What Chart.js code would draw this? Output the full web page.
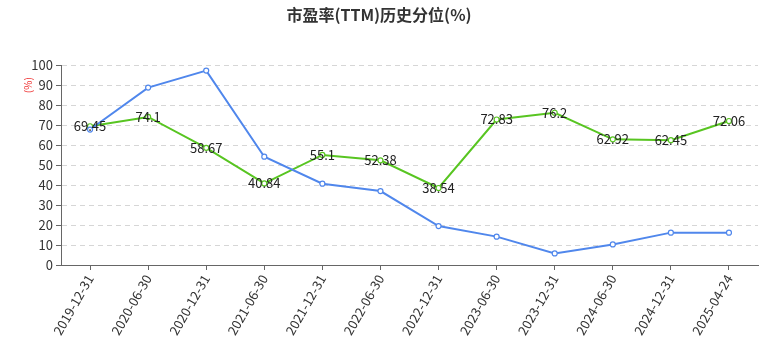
<!DOCTYPE html>
<html>
<head>
<meta charset="utf-8">
<script src="https://cdn.jsdelivr.net/npm/chart.js@4.4.1/dist/chart.umd.min.js"></script>
<style>
  html, body { margin: 0; padding: 0; background: #fff; }
  #wrap { width: 766px; height: 353px; }
</style>
</head>
<body>
<div id="wrap"><canvas id="graficoPE"></canvas></div>
<script>
const fechas = ["2019-12-31", "2020-06-30", "2020-12-31", "2021-06-30", "2021-12-31", "2022-06-30",
    "2022-12-31", "2023-06-30", "2023-12-31", "2024-06-30", "2024-12-31", "2025-04-24"];
const serieAzul = [67.8, 88.8, 97.3, 54.2, 40.7, 37.0, 19.5, 14.2, 5.8, 10.3, 16.2, 16.2];
const serieVerde = [69.45, 74.1, 58.67, 40.84, 55.1, 52.38, 38.54, 72.83, 76.2, 62.92, 62.45, 72.06];
const ticksY = [0, 10, 20, 30, 40, 50, 60, 70, 80, 90, 100];

const fuente = "'Noto Sans CJK SC', 'Noto Sans', sans-serif";

// etiquetas de valor sobre la serie verde + unidad del eje y
const etiquetasVerde = {
    id: "etiquetasVerde",
    afterDatasetsDraw(chart) {
        const ctx = chart.ctx;
        const meta = chart.getDatasetMeta(1);
        ctx.save();
        ctx.font = "13px " + fuente;
        ctx.fillStyle = "#222";
        ctx.textAlign = "center";
        ctx.textBaseline = "middle";
        meta.data.forEach((p, i) => {
            ctx.fillText(String(serieVerde[i]), p.x, p.y);
        });
        ctx.restore();
    },
    afterDraw(chart) {
        const ctx = chart.ctx;
        const y = chart.scales.y;
        ctx.save();
        ctx.translate(28, y.top + 20);
        ctx.rotate(-Math.PI / 2);
        ctx.font = "10px " + fuente;
        ctx.fillStyle = "#e33";
        ctx.textAlign = "center";
        ctx.textBaseline = "middle";
        ctx.fillText("(%)", 0, 0);
        ctx.restore();
    },
};

const dataGraficoPE = {
    labels: fechas,
    datasets: [
        {
            label: "A",
            data: serieAzul,
            borderColor: "#5087ec",
            backgroundColor: "#fff",
            borderWidth: 2,
            pointRadius: 2.5,
            pointBorderWidth: 1.2,
            pointBackgroundColor: "#fff",
            tension: 0,
        },
        {
            label: "B",
            data: serieVerde,
            borderColor: "#58c521",
            backgroundColor: "#fff",
            borderWidth: 2,
            pointRadius: 2.5,
            pointBorderWidth: 1.2,
            pointBackgroundColor: "#fff",
            tension: 0,
        },
    ],
};

const configGraficoPE = {
    type: "line",
    data: dataGraficoPE,
    options: {
        responsive: true,
        maintainAspectRatio: false,
        animation: false,
        layout: { padding: { left: 0, right: 8, top: 0, bottom: 0 } },
        plugins: {
            legend: { display: false },
            tooltip: { enabled: false },
            title: {
                display: true,
                text: "市盈率(TTM)历史分位(%)",
                color: "#333",
                font: { weight: "bold", size: 16, family: fuente },
                padding: { top: 5, bottom: 41 },
            },
        },
        scales: {
            x: {
                offset: true,
                grid: {
                    drawOnChartArea: false,
                    drawTicks: true,
                    tickLength: 5,
                    color: "#666",
                },
                border: { color: "#666", width: 1 },
                ticks: {
                    color: "#333",
                    font: { size: 13, family: fuente },
                    minRotation: 60,
                    maxRotation: 60,
                    autoSkip: false,
                    padding: 2,
                },
                afterFit(scale) { scale.height = 88; },
            },
            y: {
                min: 0,
                max: 100,
                afterBuildTicks(scale) { scale.ticks = ticksY.map((v) => ({ value: v })); },
                grid: {
                    color: (c) => (c.tick && c.tick.value === 0 ? "rgba(0,0,0,0)" : "#d6d6d6"),
                    tickColor: "#666",
                    tickLength: 5,
                    drawTicks: true,
                },
                border: { color: "#666", width: 1, dash: [5, 4] },
                ticks: {
                    color: "#333",
                    font: { size: 13, family: fuente },
                    padding: 3,
                },
                afterFit(scale) { scale.width = 61; },
            },
        },
    },
    plugins: [etiquetasVerde],
};

const chartPE = new Chart(document.getElementById("graficoPE"), configGraficoPE);
</script>
</body>
</html>
